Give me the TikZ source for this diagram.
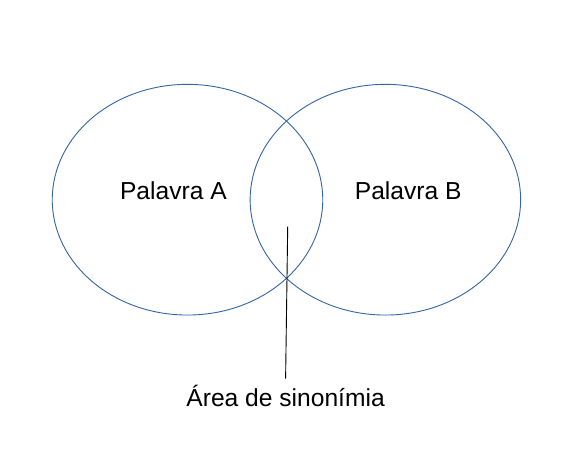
\documentclass[tikz,border=0pt]{standalone}
\usepackage{fontspec}
\setmainfont{Liberation Sans}
\usetikzlibrary{shapes.geometric}
\definecolor{ringblue}{HTML}{3465A4}
\begin{document}
\begin{tikzpicture}[x=1pt,y=-1pt,
  ring/.style={ellipse, draw=ringblue, line width=0.9pt, minimum width=270.5pt, minimum height=230.7pt, inner sep=0pt},
  lbl/.style={anchor=base, inner sep=0pt, font=\fontsize{24.6}{29}\selectfont},
  leader/.style={draw=black, line width=0.9pt}]
  \useasboundingbox[fill=white] (0,0) rectangle (573,460);
  \node[ring] (ea) at (187.5,199.7) {};
  \node[ring] (eb) at (385.4,199.7) {};
  \node[lbl] (pa) at (173.4,199.3) {Palavra A};
  \node[lbl] (pb) at (408.2,199.3) {Palavra B};
  \node[lbl, outer ysep=6.8pt] (area) at (285.6,406.7) {Área de sinonímia};
  \coordinate (tip) at (287.7,226.7);
  \path[leader] (tip) -- (area.north);
\end{tikzpicture}
\end{document}
